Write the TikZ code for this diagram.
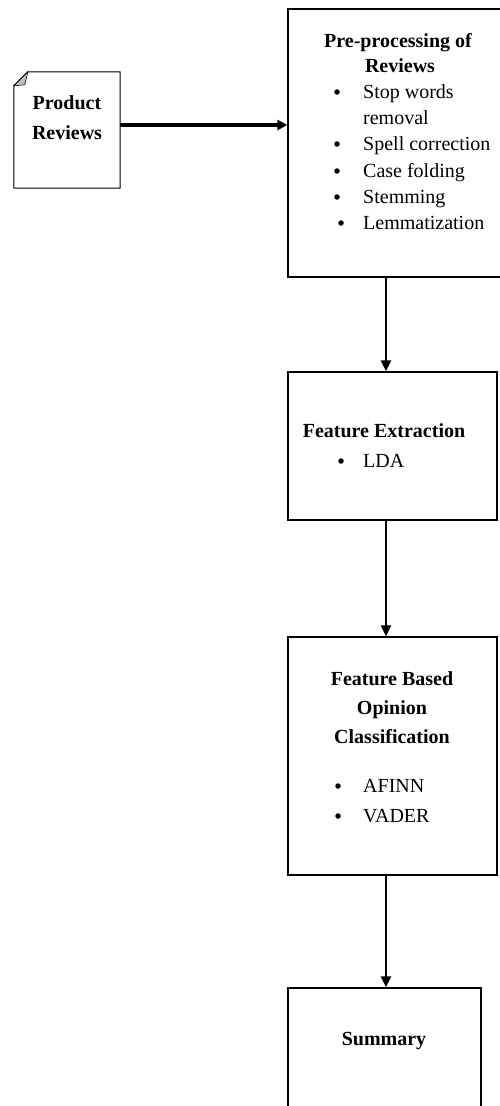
\documentclass[tikz,border=0pt]{standalone}
\usepackage{fontspec}
\setmainfont{Liberation Serif}
\usetikzlibrary{arrows.meta}
\begin{document}
\begin{tikzpicture}[x=1pt,y=-1pt,
  box/.style={draw=black,line width=1.3pt,fill=white,inner sep=0pt},
  ttl/.style={font=\fontsize{20}{24}\selectfont\bfseries,anchor=base,inner sep=0pt},
  itm/.style={font=\fontsize{20}{24}\selectfont,anchor=base west,inner sep=0pt},
  bul/.style={circle,fill=black,inner sep=0pt,minimum size=5.5pt},
  arr/.style={line width=2.2pt,-{Triangle[length=11pt,width=10pt]}},
  thickarr/.style={line width=3.4pt,-{Triangle[length=10pt,width=10pt]}}]
\useasboundingbox (0,0) rectangle (500,1106);
% document shape
\node[minimum width=106pt,minimum height=116pt,inner sep=0pt] (doc) at (67,130) {};
\draw[line width=1pt,fill=white] ([yshift=-14pt]doc.north west) -- ([xshift=14pt]doc.north west) -- (doc.north east) -- (doc.south east) -- (doc.south west) -- cycle;
\fill[gray!50,draw=black,line width=0.6pt] ([yshift=-14pt]doc.north west) -- ([xshift=14pt]doc.north west) -- ([xshift=11pt,yshift=-13pt]doc.north west) -- cycle;
\node[ttl] (pr1) at (67,109) {Product};
\node[ttl] (pr2) at (67,139) {Reviews};
% boxes
\node[box,minimum width=214pt,minimum height=268pt] (b1) at (395,143) {};
\node[box,minimum width=209pt,minimum height=148pt] (b2) at (392.5,446) {};
\node[box,minimum width=209pt,minimum height=238pt] (b3) at (392.5,756) {};
\node[box,minimum width=193pt,minimum height=132pt] (b4) at (384.5,1054) {};
% box 1 text
\node[ttl] (t1a) at (398,47) {Pre-processing of};
\node[ttl] (t1b) at (400,72) {Reviews};
\node[bul] (u1) at (337,92) {};
\node[itm] (i1) at (363,98) {Stop words};
\node[itm] (i1b) at (363,124) {removal};
\node[bul] (u2) at (337,144) {};
\node[itm] (i2) at (363,150) {Spell correction};
\node[bul] (u3) at (337,171) {};
\node[itm] (i3) at (363,177) {Case folding};
\node[bul] (u4) at (337,197) {};
\node[itm] (i4) at (363,203) {Stemming};
\node[bul] (u5) at (341,223) {};
\node[itm] (i5) at (363,229) {Lemmatization};
% box 2 text
\node[ttl] (t2) at (384,437) {Feature Extraction};
\node[bul] (u6) at (341,461) {};
\node[itm] (i6) at (363,467) {LDA};
% box 3 text
\node[ttl] (t3a) at (392,685) {Feature Based};
\node[ttl] (t3b) at (392,714) {Opinion};
\node[ttl] (t3c) at (392,743) {Classification};
\node[bul] (u7) at (338,786) {};
\node[itm] (i7) at (363,792) {AFINN};
\node[bul] (u8) at (338,816) {};
\node[itm] (i8) at (363,822) {VADER};
% box 4 text
\node[ttl] (t4) at (384,1045) {Summary};
% connectors
\coordinate (ax) at (386,0);
\coordinate (ay) at (0,125);
\draw[thickarr] (doc.east |- ay) -- (b1.west |- ay);
\draw[arr] (b1.south -| ax) -- (b2.north -| ax);
\draw[arr] (b2.south -| ax) -- (b3.north -| ax);
\draw[arr] (b3.south -| ax) -- (b4.north -| ax);
\end{tikzpicture}
\end{document}
